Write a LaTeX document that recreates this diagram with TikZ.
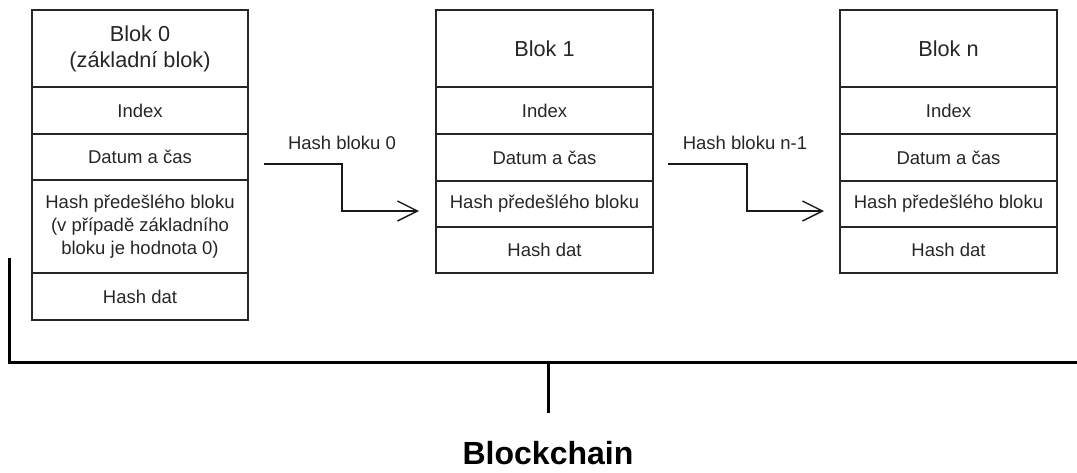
\documentclass[tikz,border=0pt]{standalone}
\usepackage{fontspec}
\setmainfont{Liberation Sans}
\usetikzlibrary{arrows.meta}
\tikzset{
  cell/.style={draw=black!85, line width=1.6pt, rectangle, inner sep=0pt, align=center,
    font=\fontsize{18.5}{23}\selectfont, text=black!85},
  head/.style={cell, font=\fontsize{21.7}{26}\selectfont},
  link/.style={draw=black!90, line width=1.4pt, -{Straight Barb[length=20pt,width=20pt,line width=1.4pt]}},
  linklabel/.style={font=\fontsize{18.5}{23}\selectfont, text=black!85, inner sep=0pt},
  brace/.style={draw=black, line width=3pt},
  title/.style={font=\fontsize{32}{38}\bfseries\selectfont, inner sep=0pt}
}
\begin{document}
\begin{tikzpicture}[x=1pt,y=-1pt]
\useasboundingbox (0,0) rectangle (1077,472);
% Block 0
\node[head, minimum width=216pt, minimum height=77pt] (b0h) at (140,48.5) {Blok 0\\(základní blok)};
\node[cell, minimum width=216pt, minimum height=47pt] (b0i) at (140,110.5) {Index};
\node[cell, minimum width=216pt, minimum height=46pt] (b0d) at (140,157) {Datum a čas};
\node[cell, minimum width=216pt, minimum height=93pt] (b0p) at (140,226.5) {Hash předešlého bloku\\(v případě základního\\bloku je hodnota 0)};
\node[cell, minimum width=216pt, minimum height=47pt] (b0x) at (140,296.5) {Hash dat};
% Block 1
\node[head, minimum width=217pt, minimum height=77pt] (b1h) at (544.5,48.5) {Blok 1};
\node[cell, minimum width=217pt, minimum height=47pt] (b1i) at (544.5,110.5) {Index};
\node[cell, minimum width=217pt, minimum height=47pt] (b1d) at (544.5,157.5) {Datum a čas};
\node[cell, minimum width=217pt, minimum height=46pt] (b1p) at (544.5,204) {Hash předešlého bloku};
\node[cell, minimum width=217pt, minimum height=46pt] (b1x) at (544.5,250) {Hash dat};
% Block n
\node[head, minimum width=217pt, minimum height=77pt] (bnh) at (948.5,48.5) {Blok n};
\node[cell, minimum width=217pt, minimum height=47pt] (bni) at (948.5,110.5) {Index};
\node[cell, minimum width=217pt, minimum height=47pt] (bnd) at (948.5,157.5) {Datum a čas};
\node[cell, minimum width=217pt, minimum height=46pt] (bnp) at (948.5,204) {Hash předešlého bloku};
\node[cell, minimum width=217pt, minimum height=46pt] (bnx) at (948.5,250) {Hash dat};
% Links
\coordinate (l0s) at (264,164);
\coordinate (l0m) at (342,164);
\coordinate (l0e) at (419,211);
\draw[link] (l0s) -- (l0m) |- (l0e);
\node[linklabel] (l0t) at (342,143) {Hash bloku 0};
\coordinate (l1s) at (668,164);
\coordinate (l1m) at (747,164);
\coordinate (l1e) at (824,211);
\draw[link] (l1s) -- (l1m) |- (l1e);
\node[linklabel] (l1t) at (745,143) {Hash bloku n-1};
% Bracket
\coordinate (bl) at (9,258);
\coordinate (bc) at (9,362);
\coordinate (br) at (1077,362);
\coordinate (tm) at (548,362);
\coordinate (tb) at (548,413);
\draw[brace] (bl) -- (bc) -- (br);
\draw[brace] (tm) -- (tb);
\node[title] (bt) at (548,453) {Blockchain};
\end{tikzpicture}
\end{document}
